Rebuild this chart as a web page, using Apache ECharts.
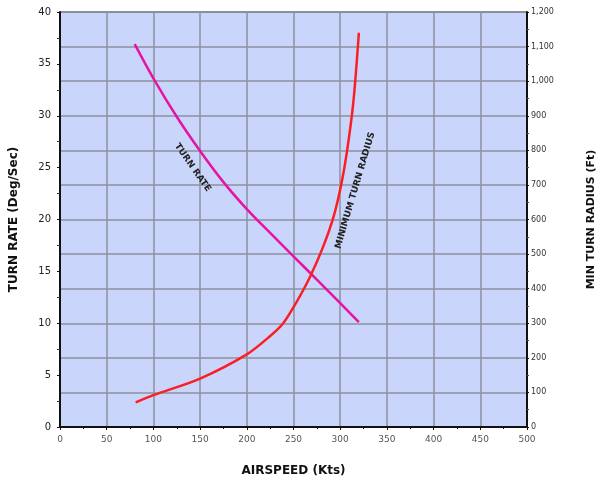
<!DOCTYPE html>
<html>
<head>
<meta charset="utf-8">
<script src="https://cdn.jsdelivr.net/npm/echarts@6/dist/echarts.min.js"></script>
<style>html,body{margin:0;padding:0;background:#fff}#c{width:606px;height:482px}</style>
</head>
<body>
<div id="c"></div>
<script>
// Turn rate (deg/sec) vs airspeed (kts)
var turnRateSpeed = [80, 100, 125, 150, 175, 200, 225, 250, 275, 300, 320];
var turnRateValue = [36.9, 33.6, 29.9, 26.6, 23.6, 21.0, 18.7, 16.45, 14.2, 11.95, 10.1];
// Minimum turn radius (ft) vs airspeed (kts)
var radiusSpeed = [81, 100, 150, 200, 225, 239, 253, 268, 282, 293, 301, 307, 314, 320];
var radiusValue = [71, 92, 140, 210, 263, 300, 360, 436, 523, 609, 700, 792, 937, 1140];

var leftTicks = [0, 40, 5];
var rightTicks = [0, 1200, 100];
var xTicks = [0, 500, 50];

function pairs(xs, ys) { return xs.map(function (x, i) { return [x, ys[i]]; }); }

var chart = echarts.init(document.getElementById('c'));
var font = 'DejaVu Sans';
chart.setOption({
  animation: false,
  backgroundColor: '#ffffff',
  grid: { left: 60, right: 79, top: 12, bottom: 54, show: true, backgroundColor: '#c9d5fa', borderColor: '#333', borderWidth: 1 },
  xAxis: {
    type: 'value', min: xTicks[0], max: xTicks[1], interval: xTicks[2],
    name: 'AIRSPEED (Kts)', nameLocation: 'middle', nameGap: 38,
    nameTextStyle: { fontFamily: font, fontWeight: 'bold', fontSize: 12, color: '#111' },
    axisLine: { show: true, lineStyle: { color: '#111', width: 2 } },
    axisTick: { show: true, length: 3, lineStyle: { color: '#111' } },
    minorTick: { show: true, splitNumber: 2, length: 2, lineStyle: { color: '#111' } },
    axisLabel: { fontFamily: font, fontSize: 9, color: '#555', margin: 8 },
    splitLine: { show: true, lineStyle: { color: '#8c919c', width: 1.5 } }
  },
  yAxis: [{
    type: 'value', min: leftTicks[0], max: leftTicks[1], interval: leftTicks[2], position: 'left',
    name: 'TURN RATE (Deg/Sec)', nameLocation: 'middle', nameGap: 40, nameRotate: 90,
    nameTextStyle: { fontFamily: font, fontWeight: 'bold', fontSize: 12, color: '#111' },
    axisLine: { show: true, lineStyle: { color: '#111', width: 2 } },
    axisTick: { show: true, length: 3, lineStyle: { color: '#111' } },
    minorTick: { show: true, splitNumber: 2, length: 3, lineStyle: { color: '#333' } },
    axisLabel: { fontFamily: font, fontSize: 10, color: '#222', margin: 9 },
    splitLine: { show: false }
  }, {
    type: 'value', min: rightTicks[0], max: rightTicks[1], interval: rightTicks[2], position: 'right',
    name: 'MIN TURN RADIUS (Ft)', nameLocation: 'middle', nameGap: 59, nameRotate: 90,
    nameTextStyle: { fontFamily: font, fontWeight: 'bold', fontSize: 11, color: '#111' },
    axisLine: { show: true, lineStyle: { color: '#111', width: 2 } },
    axisTick: { show: true, length: 2, lineStyle: { color: '#111' } },
    minorTick: { show: true, splitNumber: 2, length: 2, lineStyle: { color: '#555' } },
    axisLabel: { fontFamily: font, fontSize: 8, color: '#333', margin: 4,
      formatter: function (v) { return v.toLocaleString('en-US'); } },
    splitLine: { show: true, lineStyle: { color: '#8c919c', width: 1.5 } }
  }],
  series: [{
    name: 'TURN RATE', type: 'line', yAxisIndex: 0, smooth: 0.3, symbol: 'none',
    lineStyle: { color: '#e414a4', width: 2.5 },
    data: pairs(turnRateSpeed, turnRateValue)
  }, {
    name: 'MINIMUM TURN RADIUS', type: 'line', yAxisIndex: 1, smooth: 0.3, symbol: 'none',
    lineStyle: { color: '#fb1e24', width: 2.5 },
    data: pairs(radiusSpeed, radiusValue)
  }]
});

// Curve annotations placed in data coordinates
var p1 = chart.convertToPixel({ xAxisIndex: 0, yAxisIndex: 0 }, [142, 25]);
var p2 = chart.convertToPixel({ xAxisIndex: 0, yAxisIndex: 0 }, [316, 22.8]);
chart.setOption({
  graphic: [{
    type: 'text', x: p1[0], y: p1[1], rotation: -55 * Math.PI / 180,
    style: { text: 'TURN RATE', fontFamily: font, fontSize: 9, fontWeight: 'bold', fill: '#222', align: 'center', verticalAlign: 'middle' }
  }, {
    type: 'text', x: p2[0], y: p2[1], rotation: 73.5 * Math.PI / 180,
    style: { text: 'MINIMUM TURN RADIUS', fontFamily: font, fontSize: 9, fontWeight: 'bold', fill: '#222', align: 'center', verticalAlign: 'middle' }
  }]
});
</script>
</body>
</html>
